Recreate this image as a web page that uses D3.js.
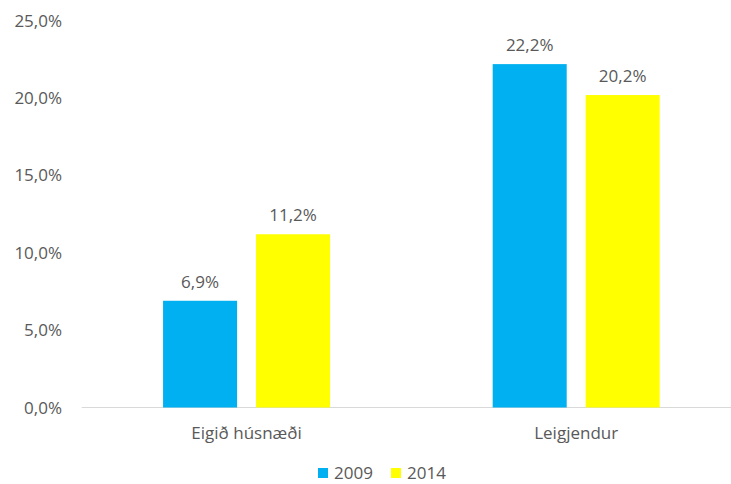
<!DOCTYPE html>
<html lang="is">
<head>
    <meta charset="UTF-8">
    <title>Eigið húsnæði / Leigjendur</title>
    <style>
        body { margin: 0; background: #fff; }
        text { font-family: "Open Sans", sans-serif; fill: #595959; font-size: 17px; }
    </style>
    <script src="https://d3js.org/d3.v7.min.js"></script>
</head>
<body>
    <script>
        const categories = ["Eigið húsnæði", "Leigjendur"];
        const years = ["2009", "2014"];
        const values2009 = [6.9, 22.2];
        const values2014 = [11.2, 20.2];
        const yTicks = [0, 5, 10, 15, 20, 25];
        const colors = ["#00b0f0", "#ffff00"];

        const width = 731, height = 484;
        const plotLeft = 81.75, plotRight = 741, plotTop = 20.8, plotBottom = 407.5;

        const svg = d3.select("body").append("svg")
            .attr("width", width)
            .attr("height", height);

        const x = d3.scaleBand().domain(categories).range([plotLeft, plotRight]);
        const xInner = d3.scaleBand().domain(years).range([0, 167]).paddingInner(0.204);
        const y = d3.scaleLinear().domain([0, 25]).range([plotBottom, plotTop]);
        const fmt = v => d3.format(".1f")(v).replace(".", ",") + "%";

        // y axis labels
        svg.append("g").attr("class", "axis-y")
            .selectAll("text").data(yTicks).enter().append("text")
            .attr("x", 62)
            .attr("y", d => y(d) + 6)
            .attr("text-anchor", "end")
            .text(d => fmt(d));

        // baseline
        svg.append("line")
            .attr("x1", plotLeft).attr("x2", width)
            .attr("y1", y(0)).attr("y2", y(0))
            .attr("stroke", "#d9d9d9").attr("stroke-width", 1);

        const rows = categories.map((c, i) => ({ cat: c, vals: [values2009[i], values2014[i]] }));

        const groups = svg.append("g").selectAll("g").data(rows).enter().append("g")
            .attr("transform", d => `translate(${x(d.cat) + (x.bandwidth() - 167) / 2},0)`);

        const bars = groups.selectAll("g").data(d => d.vals.map((v, j) => ({ year: years[j], v, j })))
            .enter().append("g");

        bars.append("rect")
            .attr("x", d => xInner(d.year))
            .attr("width", xInner.bandwidth())
            .attr("y", d => y(d.v))
            .attr("height", d => y(0) - y(d.v))
            .attr("fill", d => colors[d.j]);

        bars.append("text").attr("class", "value")
            .attr("x", d => xInner(d.year) + xInner.bandwidth() / 2)
            .attr("y", d => y(d.v) - 13)
            .attr("text-anchor", "middle")
            .text(d => fmt(d.v));

        // category labels
        svg.append("g").attr("class", "cat")
            .selectAll("text").data(categories).enter().append("text")
            .attr("x", d => x(d) + x.bandwidth() / 2)
            .attr("y", 439)
            .attr("text-anchor", "middle")
            .text(d => d);

        // legend
        const legend = svg.append("g").attr("class", "legend");
        const legendX = [318, 391];
        years.forEach((yr, i) => {
            legend.append("rect")
                .attr("x", legendX[i]).attr("y", 468)
                .attr("width", 10).attr("height", 10)
                .attr("fill", colors[i]);
            legend.append("text")
                .attr("x", legendX[i] + 16).attr("y", 479)
                .text(yr);
        });
    </script>
</body>
</html>
